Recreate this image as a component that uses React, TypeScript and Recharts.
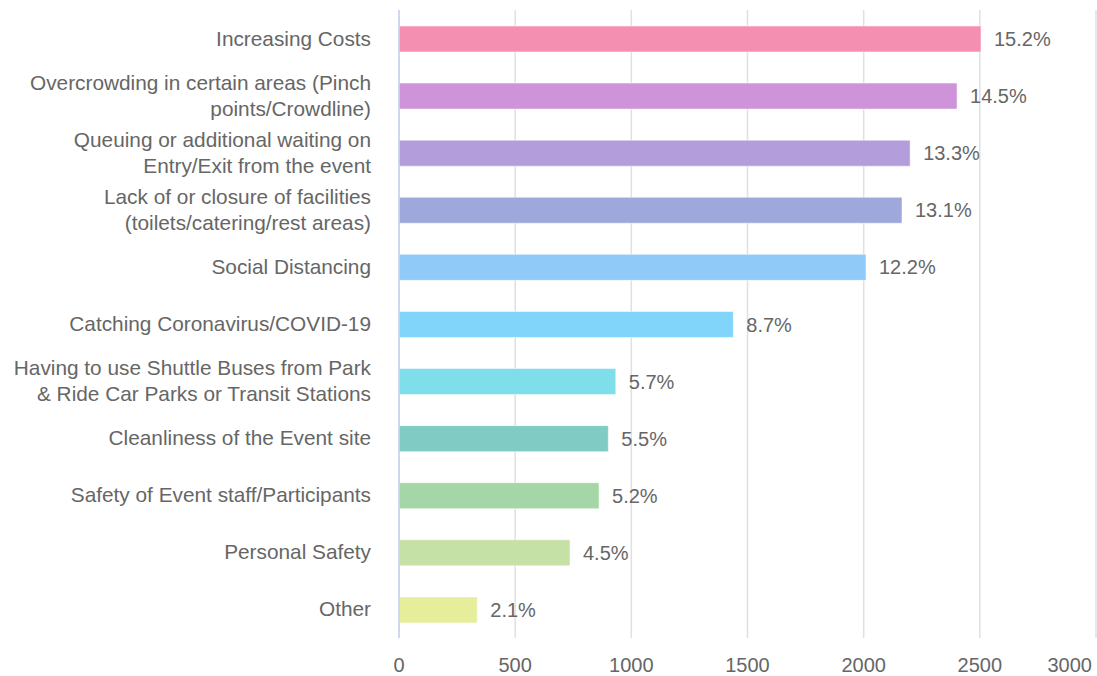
import React from "react";
import {
  BarChart,
  Bar,
  XAxis,
  YAxis,
  CartesianGrid,
  Cell,
  LabelList,
} from "recharts";

// "\n" marks where the original label wraps
const categories = [
  "Increasing Costs",
  "Overcrowding in certain areas (Pinch\npoints/Crowdline)",
  "Queuing or additional waiting on\nEntry/Exit from the event",
  "Lack of or closure of facilities\n(toilets/catering/rest areas)",
  "Social Distancing",
  "Catching Coronavirus/COVID-19",
  "Having to use Shuttle Buses from Park\n& Ride Car Parks or Transit Stations",
  "Cleanliness of the Event site",
  "Safety of Event staff/Participants",
  "Personal Safety",
  "Other",
];

const counts = [2505, 2402, 2200, 2165, 2010, 1439, 933, 901, 861, 736, 337];

const percents = ["15.2%", "14.5%", "13.3%", "13.1%", "12.2%", "8.7%", "5.7%", "5.5%", "5.2%", "4.5%", "2.1%"];

const colors = [
  "#F48FB1",
  "#CE93D8",
  "#B39DDB",
  "#9FA8DA",
  "#90CAF9",
  "#81D4FA",
  "#80DEEA",
  "#80CBC4",
  "#A5D6A7",
  "#C5E1A5",
  "#E6EE9C",
];

const xTicks = [0, 500, 1000, 1500, 2000, 2500, 3000];

const FONT = "'Liberation Sans', Arial, sans-serif";
const TEXT = "#666666";

const data = categories.map((name, i) => ({
  name,
  value: counts[i],
  pct: percents[i],
  color: colors[i],
}));

function CategoryTick(props: any) {
  const { x, y, payload } = props;
  const lines: string[] = String(payload.value).split("\n");
  const lineH = 26;
  const start = -((lines.length - 1) * lineH) / 2;
  return (
    <text
      x={x}
      y={y}
      textAnchor="end"
      fill={TEXT}
      fontSize={20.8}
      fontFamily={FONT}
    >
      {lines.map((line, i) => (
        <tspan key={i} x={x} dy={i === 0 ? start + 7 : lineH}>
          {line}
        </tspan>
      ))}
    </text>
  );
}

function ValueTick(props: any) {
  const { x, y, payload } = props;
  const last = payload.value === xTicks[xTicks.length - 1];
  return (
    <text
      x={last ? x - 4 : x}
      y={y + 34}
      textAnchor={last ? "end" : "middle"}
      fill={TEXT}
      fontSize={20}
      fontFamily={FONT}
    >
      {payload.value}
    </text>
  );
}

export default function App() {
  return (
    <div style={{ position: "absolute", left: 0, top: 0, width: 1097, height: 676, background: "#fff" }}>
      <BarChart
        width={1097}
        height={676}
        data={data}
        layout="vertical"
        margin={{ top: 10, right: 1, bottom: 0, left: 0 }}
      >
        <CartesianGrid horizontal={false} stroke="#e0e0e0" strokeWidth={1.5} />
        <XAxis
          type="number"
          domain={[0, 3000]}
          ticks={xTicks}
          axisLine={false}
          tickLine={false}
          tickSize={0}
          tickMargin={0}
          height={38}
          tick={<ValueTick />}
          interval={0}
        />
        <YAxis
          type="category"
          dataKey="name"
          width={399}
          axisLine={{ stroke: "#c9d0ec", strokeWidth: 1.5 }}
          tickLine={false}
          tickSize={0}
          tickMargin={28}
          tick={<CategoryTick />}
          interval={0}
        />
        <Bar dataKey="value" barSize={26} isAnimationActive={false} stroke="#ffffff" strokeOpacity={0.5} strokeWidth={1}>
          {data.map((d, i) => (
            <Cell key={`cell-${i}`} fill={d.color} />
          ))}
          <LabelList
            dataKey="pct"
            position="right"
            offset={13}
            fill={TEXT}
            fontSize={20}
            fontFamily={FONT}
          />
        </Bar>
      </BarChart>
    </div>
  );
}
